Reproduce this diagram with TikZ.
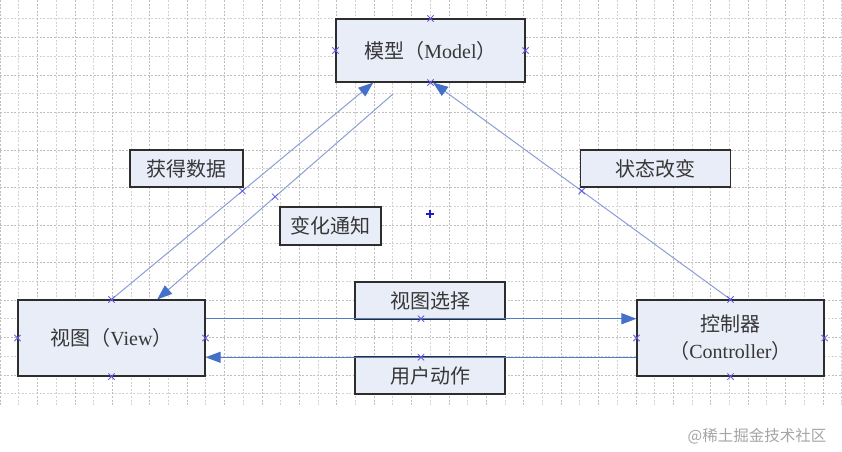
\documentclass[tikz,border=0pt]{standalone}
\usepackage{fontspec}
\setmainfont{Liberation Serif}
\newfontfamily\cjk{Noto Sans CJK SC}
\usetikzlibrary{arrows.meta,shapes.misc,calc}
\definecolor{boxfill}{RGB}{233,237,248}
\definecolor{boxdraw}{RGB}{45,45,45}
\definecolor{txt}{RGB}{55,55,55}
\definecolor{diag}{RGB}{140,158,215}
\definecolor{horiz}{RGB}{80,125,195}
\definecolor{tipc}{RGB}{68,112,200}
\definecolor{mkc}{RGB}{100,90,230}
\definecolor{gridA}{RGB}{190,190,190}
\definecolor{gridB}{RGB}{210,210,210}
\definecolor{wmc}{RGB}{165,165,165}
\definecolor{plusc}{RGB}{30,30,190}
\tikzset{
  box/.style={draw=boxdraw, fill=boxfill, line width=1.1pt, text=txt,
    font=\fontsize{20}{27}\selectfont, inner sep=0pt, align=center},
  conn/.style={line width=1pt, -{Triangle[length=15pt,width=11pt,color=tipc]}},
  xmk/.style={cross out, draw=mkc, line width=0.8pt, minimum size=5.5pt, inner sep=0pt},
  gridl/.style={line width=0.6pt, dash pattern=on 2pt off 1.6pt}
}
\begin{document}
\begin{tikzpicture}[x=1pt,y=-1pt]
\useasboundingbox (0,0) rectangle (842,451);
\fill[white] (0,0) rectangle (842,451);
% grid
\foreach \k in {1,...,21}{
  \pgfmathsetmacro{\yy}{18.75*\k}
  \ifodd\k \def\gc{gridB}\else \def\gc{gridA}\fi
  \draw[gridl, draw=\gc] (0,\yy) -- (842,\yy);
}
\foreach \k in {0,...,45}{
  \pgfmathsetmacro{\xx}{18.7*\k}
  \ifodd\k \def\gc{gridB}\else \def\gc{gridA}\fi
  \draw[gridl, draw=\gc] (\xx,0) -- (\xx,406);
}
% boxes
\node[box, minimum width=189pt, minimum height=63pt] (model) at (430.5,50.5)
  {{\cjk 模型（}Model{\cjk ）}};
\node[box, minimum width=187pt, minimum height=76pt] (view) at (111.5,338)
  {{\cjk 视图（}View{\cjk ）}};
\node[box, minimum width=187pt, minimum height=76pt] (ctrl) at (730.5,338)
  {{\cjk 控制器}\\{\cjk （}Controller{\cjk ）}};
\node[box, minimum width=113pt, minimum height=37pt] (l1) at (186.5,168.5) {\cjk 获得数据};
\node[box, minimum width=101pt, minimum height=38pt] (l2) at (330.5,226) {\cjk 变化通知};
\node[box, minimum width=150pt, minimum height=37pt] (l3) at (655.5,168.5) {\cjk 状态改变};
\node[box, minimum width=150pt, minimum height=37pt] (l4) at (430,300.5) {\cjk 视图选择};
\node[box, minimum width=150pt, minimum height=37pt] (l5) at (430,375.5) {\cjk 用户动作};
% connector end points
\coordinate (m1) at ($(model.south west)!0.199!(model.south east)$);
\coordinate (m3) at ($(model.south west)!0.513!(model.south east)$);
\coordinate (n2) at (393,94);
\coordinate (v2) at ($(view.north west)!0.743!(view.north east)$);
\coordinate (v4) at ($(view.north east)!0.25!(view.south east)$);
\coordinate (c4) at ($(ctrl.north west)!0.25!(ctrl.south west)$);
\coordinate (v5) at ($(view.north east)!0.75!(view.south east)$);
\coordinate (c5) at ($(ctrl.north west)!0.75!(ctrl.south west)$);
% connectors
\draw[conn, draw=diag] (view.north) -- node[pos=0.5, xmk] (x1) {} (m1);
\draw[conn, draw=diag] (n2) -- node[pos=0.5, xmk] (x2) {} (v2);
\draw[conn, draw=diag] (ctrl.north) -- node[pos=0.5, xmk] (x3) {} (m3);
\draw[conn, draw=horiz] (v4) -- node[pos=0.5, xmk] (x4) {} (c4);
\draw[conn, draw=horiz] (c5) -- node[pos=0.5, xmk] (x5) {} (v5);
% side markers
\foreach \b in {model,view,ctrl}{
  \foreach \a in {north,south,east,west}{
    \node[xmk] at (\b.\a) {};
  }
}
% centre plus
\coordinate (pc) at (430,214);
\draw[plusc, line width=1.2pt] ($(pc)+(-4,0)$) -- ($(pc)+(4,0)$);
\draw[plusc, line width=1.2pt] ($(pc)+(0,-4)$) -- ($(pc)+(0,4)$);
% watermark
\node[text=wmc, font=\cjk\fontsize{15.5}{18}\selectfont, inner sep=0pt] (wm) at (757,436) {@稀土掘金技术社区};
\end{tikzpicture}
\end{document}
